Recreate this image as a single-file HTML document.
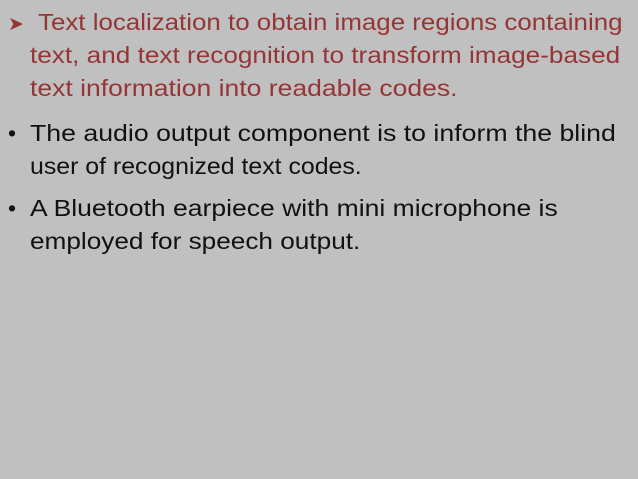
<!DOCTYPE html>
<html><head><style>
html,body{margin:0;padding:0}
body{width:638px;height:479px;background:#c0c0c0;position:relative;overflow:hidden;font-family:"Liberation Sans",sans-serif;font-size:23px}
.l{position:absolute;white-space:nowrap;line-height:26px;transform-origin:0 50%}
.r{color:#953535}
.k{color:#111}
</style></head><body>
<div class="l r" style="left:8px;top:9px"><span style="font-size:19px">&#10148;</span></div>
<div class="l r" style="left:38px;top:9px;transform:scaleX(1.126)">Text localization to obtain image regions containing</div>
<div class="l r" style="left:30px;top:42px;transform:scaleX(1.137)">text, and text recognition to transform image-based</div>
<div class="l r" style="left:30px;top:75px;transform:scaleX(1.153)">text information into readable codes.</div>
<div class="l k" style="left:8px;top:120px">•</div>
<div class="l k" style="left:30px;top:120px;transform:scaleX(1.16)">The audio output component is to inform the blind</div>
<div class="l k" style="left:30px;top:153px;transform:scaleX(1.081)">user of recognized text codes.</div>
<div class="l k" style="left:8px;top:195px">•</div>
<div class="l k" style="left:30px;top:195px;transform:scaleX(1.153)">A Bluetooth earpiece with mini microphone is</div>
<div class="l k" style="left:30px;top:228px;transform:scaleX(1.138)">employed for speech output.</div>
</body></html>
